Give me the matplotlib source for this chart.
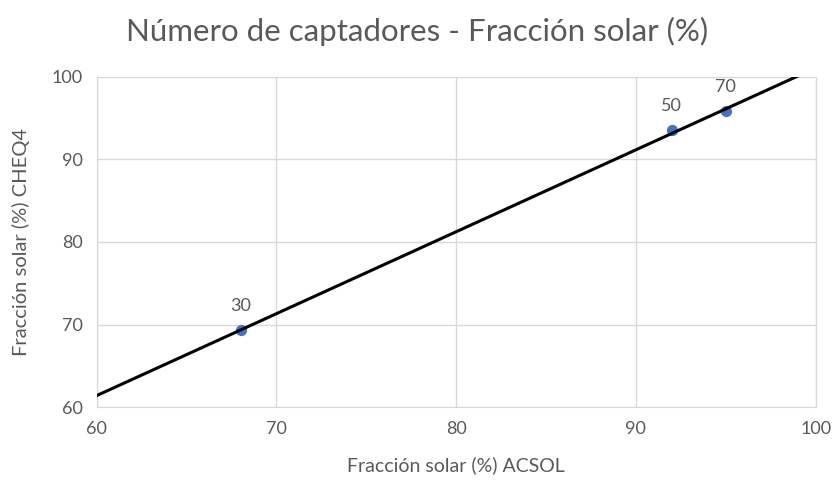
import numpy as np
import matplotlib
matplotlib.use("Agg")
import matplotlib.pyplot as plt

plt.rcParams['font.family'] = ['Lato', 'DejaVu Sans']

acsol = [68, 92, 95]
cheq4 = [69.3, 93.5, 95.8]
captadores = ["30", "50", "70"]

fig = plt.figure(figsize=(8.34, 4.83), dpi=100)
ax = fig.add_axes([0.116, 0.157, 0.862, 0.684])

txt = '#595959'
grid = '#d9d9d9'

ax.set_xlim(60, 100)
ax.set_ylim(60, 100)
ax.set_xticks([60, 70, 80, 90, 100])
ax.set_yticks([60, 70, 80, 90, 100])
ax.grid(True, color=grid, linewidth=1)
ax.set_axisbelow(True)
for s in ax.spines.values():
    s.set_color(grid)
ax.tick_params(length=0, colors=txt, labelsize=13, pad=10)

ax.scatter(acsol, cheq4, s=50, color='#4472C4', zorder=3)
m, b = np.polyfit(acsol, cheq4, 1)
xs = np.array([60, 100])
ax.plot(xs, m * xs + b, color='black', linewidth=2.2, zorder=4, clip_on=True)

for x, y, t in zip(acsol, cheq4, captadores):
    ax.annotate(t, (x, y), xytext=(0, 12), textcoords='offset points',
                ha='center', va='bottom', color=txt, fontsize=13)

ax.set_xlabel('Fracción solar (%) ACSOL', color=txt, fontsize=14, labelpad=14)
ax.set_ylabel('Fracción solar (%) CHEQ4', color=txt, fontsize=14.5, labelpad=16)
fig.suptitle('Número de captadores - Fracción solar (%)', color=txt, fontsize=22.5, y=0.965)

fig.savefig('out.png', dpi=100)
